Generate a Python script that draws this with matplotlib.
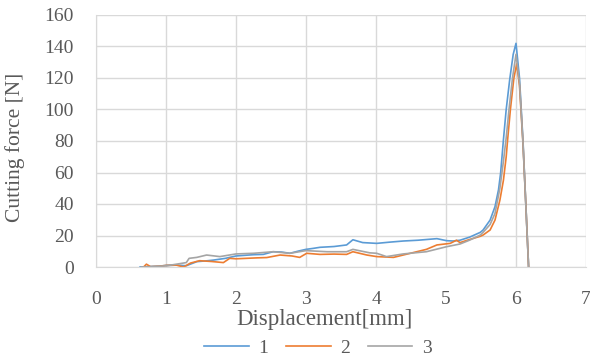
import matplotlib
matplotlib.use("Agg")
import matplotlib.pyplot as plt

# cutting force vs displacement, three specimens
disp_1 = [0.63, 0.75, 0.9, 1.0, 1.15, 1.29, 1.44, 1.6, 1.68, 1.85, 2.0, 2.15, 2.25, 2.39,
          2.53, 2.65, 2.77, 2.9, 3.0, 3.1, 3.2, 3.4, 3.58, 3.67, 3.81, 4.01, 4.2, 4.39, 4.6,
          4.87, 5.01, 5.1, 5.2, 5.34, 5.49, 5.53, 5.63, 5.7, 5.75, 5.78, 5.8, 5.82, 5.86,
          5.91, 5.96, 6.0, 6.05, 6.1, 6.14, 6.18]
force_1 = [0, 0.3, 0.5, 1.0, 1.2, 0.8, 3.4, 4.0, 4.4, 5.5, 7.0, 7.5, 7.8, 8.0,
           9.7, 9.5, 8.7, 10.2, 11.2, 11.8, 12.5, 13.0, 14.0, 17.3, 15.5, 15.0, 15.8, 16.5, 17.0,
           18.0, 16.7, 16.5, 17.0, 19.0, 22.0, 23.5, 29.8, 38.3, 49, 59.5, 70, 80.6, 100,
           119, 135, 142, 120, 80, 40, 0]

disp_2 = [0.68, 0.72, 0.78, 0.9, 1.0, 1.15, 1.25, 1.35, 1.48, 1.65, 1.82, 1.91, 2.0, 2.15,
          2.3, 2.44, 2.63, 2.8, 2.91, 3.01, 3.2, 3.4, 3.58, 3.67, 3.87, 4.01, 4.25, 4.49,
          4.72, 4.87, 5.06, 5.15, 5.2, 5.34, 5.49, 5.53, 5.63, 5.7, 5.77, 5.82, 5.86, 5.88,
          5.92, 5.97, 6.01, 6.05, 6.1, 6.14, 6.18]
force_2 = [0, 1.8, 0.2, 0.5, 1.0, 1.2, 0.0, 2.5, 4.0, 3.5, 2.8, 5.5, 5.2, 5.5,
           5.8, 6.0, 7.6, 7.0, 6.1, 8.7, 8.0, 8.2, 8.0, 9.7, 7.6, 6.6, 6.1, 8.7,
           11.2, 14.0, 15.0, 17.0, 15.5, 17.5, 19.5, 20.3, 23.5, 29.8, 42.5, 55, 70, 80.6,
           100, 120, 129, 115, 78, 40, 0]

disp_3 = [0.65, 0.8, 1.01, 1.15, 1.29, 1.33, 1.44, 1.58, 1.77, 2.0, 2.25, 2.53, 2.77, 3.0,
          3.3, 3.58, 3.67, 3.91, 4.01, 4.15, 4.39, 4.72, 5.01, 5.2, 5.34, 5.49, 5.53, 5.63,
          5.7, 5.77, 5.82, 5.86, 5.9, 5.95, 6.0, 6.05, 6.1, 6.14, 6.18]
force_3 = [0, 0.2, 0.8, 1.8, 2.8, 5.5, 6.1, 7.6, 6.6, 8.3, 8.7, 9.7, 8.7, 10.4,
           9.7, 9.7, 11.2, 9.0, 8.7, 6.6, 8.3, 9.7, 12.9, 14.6, 17.1, 20.3, 22.0, 27.0,
           34, 50, 67, 82, 100, 120, 135, 117, 79, 40, 0]

series_labels = ["1", "2", "3"]
x_ticks = [0, 1, 2, 3, 4, 5, 6, 7]
y_ticks = [0, 20, 40, 60, 80, 100, 120, 140, 160]

TEXT = "#595959"
GRID = "#d9d9d9"
COLOURS = ["#5b9bd5", "#ed7d31", "#a5a5a5"]

plt.rcParams["font.family"] = ["Liberation Serif", "DejaVu Serif"]

fig = plt.figure(figsize=(5.9, 3.6), dpi=100, facecolor="white")
ax = fig.add_axes([96 / 590, 93 / 360, 490 / 590, 252 / 360])

for xs, ys, c, lab in zip([disp_1, disp_2, disp_3], [force_1, force_2, force_3],
                          COLOURS, series_labels):
    ax.plot(xs, ys, color=c, lw=1.2, label=lab)

ax.set_xlim(0, 7)
ax.set_ylim(0, 160)
ax.set_xticks(x_ticks)
ax.set_yticks(y_ticks)
ax.grid(True, color=GRID, lw=1.0)
ax.set_axisbelow(True)
for s in ax.spines.values():
    s.set_visible(False)
ax.spines["left"].set_visible(True)
ax.spines["bottom"].set_visible(True)
ax.spines["left"].set_color(GRID)
ax.spines["bottom"].set_color(GRID)
ax.tick_params(length=0, labelsize=14, labelcolor=TEXT)
ax.tick_params(axis="x", pad=17)
ax.tick_params(axis="y", pad=16)

ax.set_xlabel("Displacement[mm]", fontsize=16.5, color=TEXT)
ax.xaxis.set_label_coords((324 - 96) / 490, -(320 - 267) / 252)
ax.xaxis.label.set_va("center")
ax.set_ylabel("Cutting force [N]", fontsize=15.5, color=TEXT)
ax.yaxis.set_label_coords((15 - 96) / 490, (267 - 147) / 252)
ax.yaxis.label.set_va("center")

fig.legend(loc="center", bbox_to_anchor=(318 / 590, 1 - 348 / 360), ncol=3,
           frameon=False, fontsize=14, labelcolor=TEXT, handlelength=2.3,
           handletextpad=0.5, columnspacing=0.9)

fig.savefig("out.png", dpi=100, facecolor="white")
